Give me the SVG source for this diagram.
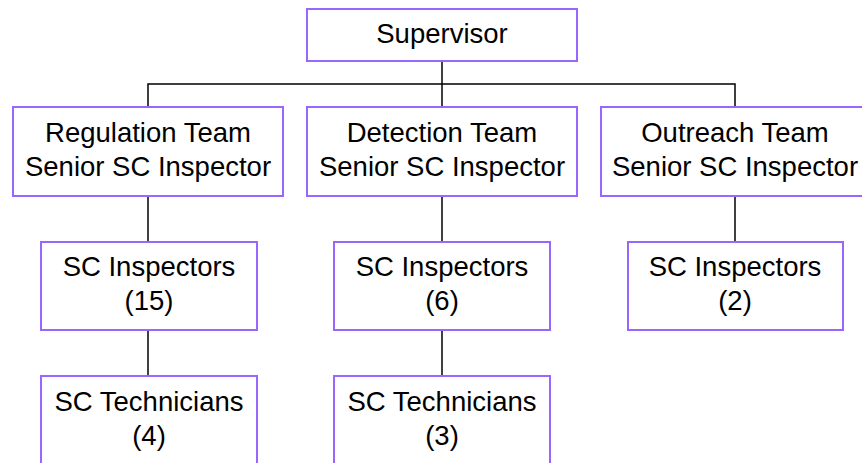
<svg xmlns="http://www.w3.org/2000/svg" width="862" height="463" viewBox="0 0 862 463">
  <style>
    .box { fill: #ffffff; stroke: #9966ff; stroke-width: 2; }
    .lbl { font-family: "Liberation Sans", Arial, sans-serif; font-size: 27.5px; fill: #000000; text-anchor: middle; }
    .link { fill: none; stroke: #000000; stroke-width: 1.5; }
  </style>
  <rect width="862" height="463" fill="#ffffff"/>

  <!-- connectors -->
  <g id="connectors">
    <path class="link" d="M442,61 V107"/>
    <path class="link" d="M148,107 V84 H735 V107"/>
    <path class="link" d="M148,196 V242"/>
    <path class="link" d="M148,330 V376"/>
    <path class="link" d="M442,196 V242"/>
    <path class="link" d="M442,330 V376"/>
    <path class="link" d="M735,196 V242"/>
  </g>

  <g id="supervisor">
    <rect class="box" x="307" y="9" width="270" height="52"/>
    <text class="lbl" x="442" y="43">Supervisor</text>
  </g>

  <g id="regulation-team">
    <rect class="box" x="13" y="107" width="270" height="89"/>
    <text class="lbl" x="148" y="142">Regulation Team</text>
    <text class="lbl" x="148" y="176">Senior SC Inspector</text>
  </g>

  <g id="detection-team">
    <rect class="box" x="307" y="107" width="270" height="89"/>
    <text class="lbl" x="442" y="142">Detection Team</text>
    <text class="lbl" x="442" y="176">Senior SC Inspector</text>
  </g>

  <g id="outreach-team">
    <rect class="box" x="601" y="107" width="270" height="89"/>
    <text class="lbl" x="735" y="142">Outreach Team</text>
    <text class="lbl" x="735" y="176">Senior SC Inspector</text>
  </g>

  <g id="regulation-inspectors">
    <rect class="box" x="41" y="242" width="216" height="88"/>
    <text class="lbl" x="149" y="276">SC Inspectors</text>
    <text class="lbl" x="149" y="310">(15)</text>
  </g>

  <g id="detection-inspectors">
    <rect class="box" x="334" y="242" width="216" height="88"/>
    <text class="lbl" x="442" y="276">SC Inspectors</text>
    <text class="lbl" x="442" y="310">(6)</text>
  </g>

  <g id="outreach-inspectors">
    <rect class="box" x="628" y="242" width="215" height="88"/>
    <text class="lbl" x="735" y="276">SC Inspectors</text>
    <text class="lbl" x="735" y="310">(2)</text>
  </g>

  <g id="regulation-technicians">
    <rect class="box" x="41" y="376" width="216" height="100"/>
    <text class="lbl" x="149" y="411">SC Technicians</text>
    <text class="lbl" x="149" y="445">(4)</text>
  </g>

  <g id="detection-technicians">
    <rect class="box" x="334" y="376" width="216" height="100"/>
    <text class="lbl" x="442" y="411">SC Technicians</text>
    <text class="lbl" x="442" y="445">(3)</text>
  </g>
</svg>
